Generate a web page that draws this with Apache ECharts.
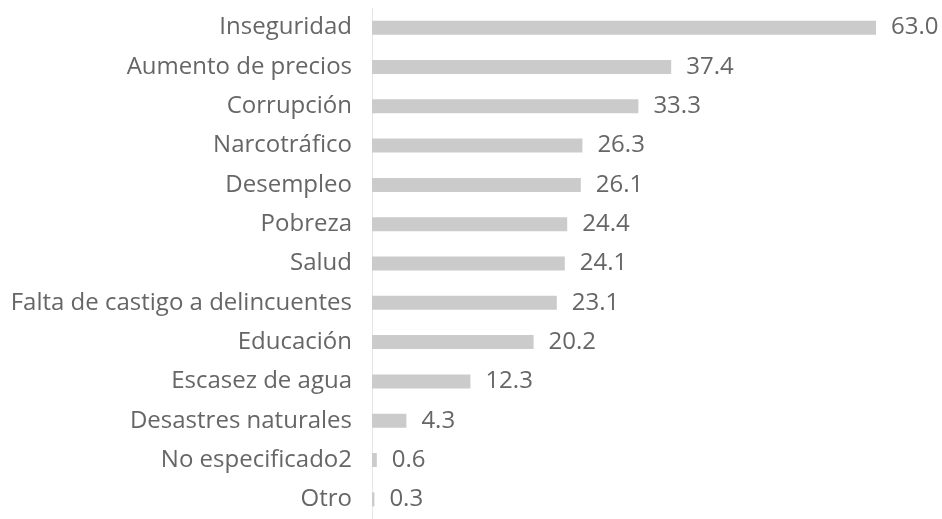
<!DOCTYPE html>
<html><head><meta charset="utf-8">
<script src="https://cdn.jsdelivr.net/npm/echarts@6/dist/echarts.min.js"></script>
<style>html,body{margin:0;padding:0;background:#fff}#c{width:942px;height:519px}</style>
</head><body><div id="c"></div>
<script>
const categories = ["Inseguridad","Aumento de precios","Corrupción","Narcotráfico","Desempleo","Pobreza","Salud","Falta de castigo a delincuentes","Educación","Escasez de agua","Desastres naturales","No especificado2","Otro"];
const values = [63.0,37.4,33.3,26.3,26.1,24.4,24.1,23.1,20.2,12.3,4.3,0.6,0.3];
const chart = echarts.init(document.getElementById('c'));
chart.setOption({
  animation:false,
  grid:{left:372, top:8, width:560, height:518, containLabel:false},
  xAxis:{type:'value', min:0, max:70, show:false},
  yAxis:{type:'category', data:categories, inverse:true,
    axisLine:{show:true, lineStyle:{color:'#e6e6e6', width:1}},
    axisTick:{show:false},
    axisLabel:{margin:20, color:'#666666', fontSize:24, fontFamily:'Open Sans'}
  },
  series:[{type:'bar', data:values, barWidth:14,
    itemStyle:{color:'#cbcbcb'},
    label:{show:true, position:'right', distance:15, color:'#666666', fontSize:24, fontFamily:'Open Sans',
      formatter:p=>p.value.toFixed(1)}
  }]
});
</script></body></html>
